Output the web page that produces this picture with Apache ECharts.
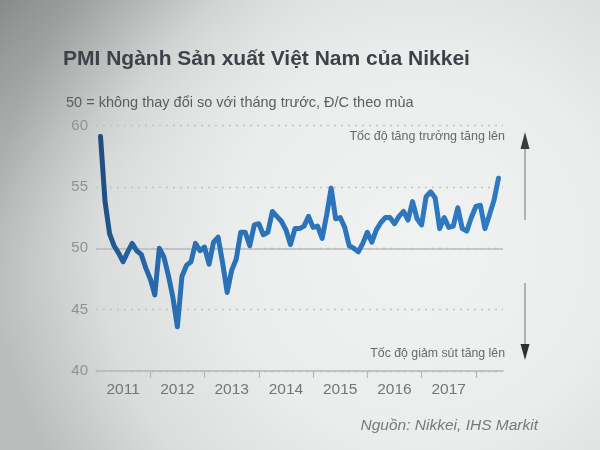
<!DOCTYPE html>
<html>
<head>
<meta charset="utf-8">
<script src="https://cdn.jsdelivr.net/npm/echarts@6/dist/echarts.min.js"></script>
<style>
html,body{margin:0;padding:0;background:#e6e9e8;}
#chart{width:600px;height:450px;}
</style>
</head>
<body>
<div id="chart"></div>
<script>
// Monthly categories Jan 2011 .. Jul 2018 (axis extent)
const axisStartYear = 2011, axisEndYear = 2018, axisEndMonth = 7;
const categories = [];
for (let y = axisStartYear; y <= axisEndYear; y++) {
  for (let m = 1; m <= 12; m++) {
    if (y === axisEndYear && m > axisEndMonth) break;
    categories.push(y + '-' + (m < 10 ? '0' + m : m));
  }
}
// Year labels shown under the axis
const yearLabels = ['2011', '2012', '2013', '2014', '2015', '2016', '2017'];
// PMI readings, Feb 2011 .. Jun 2018
const firstDataIndex = 1; // Feb 2011
const pmiValues = [
  59.1, 53.8, 51.2, 50.2, 49.6, 48.9, 49.7, 50.4, 49.8, 49.5, 48.4,
  47.5, 46.2, 50.0, 49.3, 47.8, 46.0, 43.6, 47.7, 48.6, 48.9, 50.4,
  49.8, 50.1, 48.7, 50.5, 50.9, 48.8, 46.4, 48.2, 49.1, 51.3, 51.3,
  50.2, 51.9, 52.0, 51.1, 51.3, 53.0, 52.6, 52.2, 51.5, 50.3, 51.6,
  51.6, 51.8, 52.6, 51.7, 51.8, 50.8, 52.7, 54.9, 52.4, 52.5, 51.7,
  50.2, 50.0, 49.7, 50.4, 51.3, 50.5, 51.5, 52.1, 52.5, 52.5, 52.0,
  52.6, 53.0, 52.3, 53.8, 52.4, 51.9, 54.2, 54.6, 54.1, 51.6, 52.5,
  51.7, 51.8, 53.3, 51.6, 51.4, 52.5, 53.4, 53.5, 51.6, 52.7, 53.9,
  55.7
];
const yMin = 40, yMax = 60, yStep = 5;
const noChangeLevel = 50;

const titleText = 'PMI Ngành Sản xuất Việt Nam của Nikkei';
const subtitleText = '50 = không thay đổi so với tháng trước, Đ/C theo mùa';
const upText = 'Tốc độ tăng trưởng tăng lên';
const downText = 'Tốc độ giảm sút tăng lên';
const sourceText = 'Nguồn: Nikkei, IHS Markit';

const FONT = '"Liberation Sans", Arial, Helvetica, sans-serif';
const seriesData = pmiValues.map((v, i) => [categories[i + firstDataIndex], v]);

const chart = echarts.init(document.getElementById('chart'), null, {renderer: 'canvas'});
chart.setOption({
  animation: false,
  backgroundColor: 'transparent',
  grid: {left: 96, right: 97, top: 125.5, bottom: 79},
  xAxis: {
    type: 'category',
    data: categories,
    boundaryGap: false,
    axisLine: {lineStyle: {color: '#b3b6b5', width: 1.5}},
    axisTick: {
      interval: (i) => i > 0 && i % 12 === 0,
      length: 7,
      lineStyle: {color: '#b5b8b7', width: 1.2}
    },
    axisLabel: {
      interval: (i, v) => v.slice(5) === '07' && yearLabels.indexOf(v.slice(0, 4)) >= 0,
      formatter: (v) => v.slice(0, 4),
      color: '#737678',
      fontSize: 15.5,
      fontFamily: FONT,
      margin: 11
    },
    splitLine: {show: false}
  },
  yAxis: {
    type: 'value',
    min: yMin, max: yMax, interval: yStep,
    axisLine: {show: false},
    axisTick: {show: false},
    axisLabel: {color: '#8f9291', fontSize: 15, fontFamily: FONT, margin: 8},
    splitLine: {lineStyle: {type: [2, 5], color: '#c0c4c3', width: 1.3}}
  },
  series: [{
    type: 'line',
    data: seriesData,
    symbol: 'none',
    z: 3,
    lineStyle: {
      width: 5,
      join: 'round',
      cap: 'round',
      color: {
        type: 'linear', x: 0, y: 0, x2: 1, y2: 0,
        colorStops: [
          {offset: 0, color: '#1f4b7a'},
          {offset: 0.05, color: '#245c98'},
          {offset: 0.2, color: '#2a70b5'},
          {offset: 1, color: '#2e7ac2'}
        ]
      }
    },
    markLine: {
      silent: true,
      z: 1,
      symbol: 'none',
      label: {show: false},
      lineStyle: {type: 'solid', color: '#b8bbba', width: 1.5},
      data: [{yAxis: noChangeLevel}]
    }
  }],
  graphic: [
    {
      type: 'rect', z: -100, silent: true,
      shape: {x: 0, y: 0, width: 600, height: 450},
      style: {
        fill: {
          type: 'radial', x: 0.7, y: 0.55, r: 0.95,
          colorStops: [
            {offset: 0, color: '#f1f3f2'},
            {offset: 0.45, color: '#eaedeb'},
            {offset: 0.75, color: '#dadddc'},
            {offset: 1, color: '#b9bdbb'}
          ]
        }
      }
    },
    {
      type: 'rect', z: -99, silent: true,
      shape: {x: 0, y: 0, width: 600, height: 450},
      style: {
        fill: {
          type: 'linear', x: 0, y: 0, x2: 0.55, y2: 0.75,
          colorStops: [
            {offset: 0, color: 'rgba(85,90,88,0.5)'},
            {offset: 0.3, color: 'rgba(120,125,123,0.12)'},
            {offset: 0.55, color: 'rgba(255,255,255,0)'}
          ]
        }
      }
    },
    {
      type: 'text', left: 63, top: 49,
      style: {text: titleText, font: 'bold 21px ' + FONT, fill: '#3d4248'}
    },
    {
      type: 'text', left: 66, top: 95,
      style: {text: subtitleText, font: '14.5px ' + FONT, fill: '#5b5e60'}
    },
    {
      type: 'text', right: 95, top: 130,
      style: {text: upText, font: '12.5px ' + FONT, fill: '#67696b', align: 'right'}
    },
    {
      type: 'text', right: 95, top: 348,
      style: {text: downText, font: '12.3px ' + FONT, fill: '#67696b', align: 'right'}
    },
    {
      type: 'text', right: 62, top: 418,
      style: {text: sourceText, font: 'italic 15.5px ' + FONT, fill: '#77797b'}
    },
    {
      type: 'line', silent: true,
      shape: {x1: 525, y1: 148, x2: 525, y2: 220},
      style: {stroke: '#8d908f', lineWidth: 1.3}
    },
    {
      type: 'polygon', silent: true,
      shape: {points: [[525, 132], [520.5, 149], [529.5, 149]]},
      style: {fill: '#3a3d3f'}
    },
    {
      type: 'line', silent: true,
      shape: {x1: 525, y1: 283, x2: 525, y2: 346},
      style: {stroke: '#8d908f', lineWidth: 1.3}
    },
    {
      type: 'polygon', silent: true,
      shape: {points: [[525, 360], [520.5, 344], [529.5, 344]]},
      style: {fill: '#2e3133'}
    }
  ]
});
</script>
</body>
</html>
